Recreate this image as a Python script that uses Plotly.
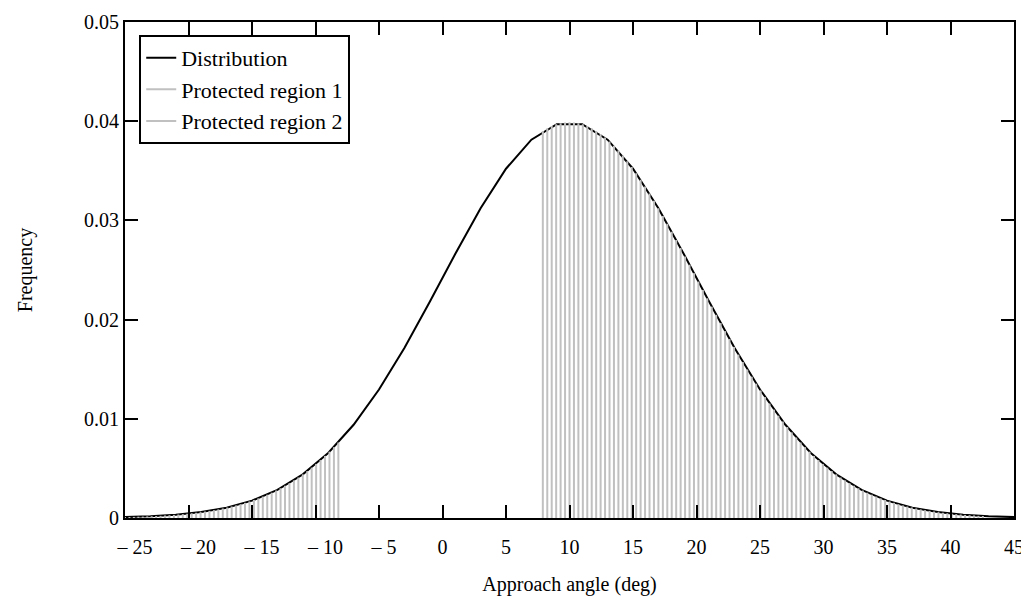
import numpy as np
import plotly.graph_objects as go

# ---- data ----
# sample grid of approach angles (deg) used for the protected-region stems
grid_angle = np.round(np.linspace(-25, 45, 201), 2)
grid_freq = [
    0.00009, 0.00010, 0.00011, 0.00013, 0.00014, 0.00016, 0.00018, 0.00020, 0.00022, 0.00025,
    0.00028, 0.00031, 0.00035, 0.00039, 0.00043, 0.00048, 0.00053, 0.00059, 0.00065, 0.00072,
    0.00079, 0.00087, 0.00096, 0.00106, 0.00116, 0.00127, 0.00139, 0.00153, 0.00167, 0.00182,
    0.00198, 0.00216, 0.00235, 0.00255, 0.00277, 0.00300, 0.00325, 0.00351, 0.00379, 0.00408,
    0.00440, 0.00473, 0.00508, 0.00545, 0.00584, 0.00626, 0.00669, 0.00714, 0.00761, 0.00811,
    0.00863, 0.00917, 0.00973, 0.01031, 0.01092, 0.01154, 0.01219, 0.01286, 0.01354, 0.01425,
    0.01497, 0.01572, 0.01647, 0.01725, 0.01804, 0.01884, 0.01965, 0.02048, 0.02131, 0.02215,
    0.02299, 0.02383, 0.02468, 0.02553, 0.02637, 0.02721, 0.02803, 0.02885, 0.02966, 0.03045,
    0.03123, 0.03198, 0.03271, 0.03342, 0.03410, 0.03476, 0.03538, 0.03597, 0.03653, 0.03704,
    0.03752, 0.03796, 0.03836, 0.03871, 0.03902, 0.03929, 0.03951, 0.03968, 0.03980, 0.03987,
    0.03989,
    0.03987, 0.03980, 0.03968, 0.03951, 0.03929, 0.03902, 0.03871, 0.03836, 0.03796, 0.03752,
    0.03704, 0.03653, 0.03597, 0.03538, 0.03476, 0.03410, 0.03342, 0.03271, 0.03198, 0.03123,
    0.03045, 0.02966, 0.02885, 0.02803, 0.02721, 0.02637, 0.02553, 0.02468, 0.02383, 0.02299,
    0.02215, 0.02131, 0.02048, 0.01965, 0.01884, 0.01804, 0.01725, 0.01647, 0.01572, 0.01497,
    0.01425, 0.01354, 0.01286, 0.01219, 0.01154, 0.01092, 0.01031, 0.00973, 0.00917, 0.00863,
    0.00811, 0.00761, 0.00714, 0.00669, 0.00626, 0.00584, 0.00545, 0.00508, 0.00473, 0.00440,
    0.00408, 0.00379, 0.00351, 0.00325, 0.00300, 0.00277, 0.00255, 0.00235, 0.00216, 0.00198,
    0.00182, 0.00167, 0.00153, 0.00139, 0.00127, 0.00116, 0.00106, 0.00096, 0.00087, 0.00079,
    0.00072, 0.00065, 0.00059, 0.00053, 0.00048, 0.00043, 0.00039, 0.00035, 0.00031, 0.00028,
    0.00025, 0.00022, 0.00020, 0.00018, 0.00016, 0.00014, 0.00013, 0.00011, 0.00010, 0.00009,
]

# distribution curve (coarser polyline)
line_angle = list(range(-25, 46, 2))
line_freq = [
    0.00009, 0.00017, 0.00033, 0.00060, 0.00104, 0.00175, 0.00283, 0.00440, 0.00656,
    0.00940, 0.01295, 0.01714, 0.02179, 0.02661, 0.03123, 0.03521, 0.03814, 0.03970,
    0.03970, 0.03814, 0.03521, 0.03123, 0.02661, 0.02179, 0.01714, 0.01295, 0.00940,
    0.00656, 0.00440, 0.00283, 0.00175, 0.00104, 0.00060, 0.00033, 0.00017, 0.00009,
]

# protected regions as index ranges into the sample grid
region1_idx = (0, 48)
region2_idx = (94, 193)

FS = "\u2007"  # figure space, nudges negative labels right as in the original
x_tickvals = [-25, -20, -15, -10, -5, 0, 5, 10, 15, 20, 25, 30, 35, 40, 45]
x_ticktext = [FS * 2 + "\u2013 25", FS * 2 + "\u2013 20", FS * 2 + "\u2013 15",
              FS * 2 + "\u2013 10", FS + "\u2013 5", "0", "5", "10",
              "15", "20", "25", "30", "35", "40", "45"]
y_tickvals = [0, 0.01, 0.02, 0.03, 0.04, 0.05]
y_ticktext = ["0", "0.01", "0.02", "0.03", "0.04", "0.05"]


def stems(lo, hi):
    xs, ys = [], []
    for i in range(lo, hi + 1):
        xs += [grid_angle[i], grid_angle[i], None]
        ys += [0, grid_freq[i], None]
    return xs, ys


FONT = "Liberation Serif, Times New Roman, serif"
STEM = "#c0c0c0"

fig = go.Figure()
fig.add_trace(go.Scatter(x=line_angle, y=line_freq, mode="lines", name="Distribution",
                         line=dict(color="black", width=2)))
sx, sy = stems(*region1_idx)
fig.add_trace(go.Scatter(x=sx, y=sy, mode="lines", name="Protected region 1",
                         line=dict(color=STEM, width=2), connectgaps=False))
sx, sy = stems(*region2_idx)
fig.add_trace(go.Scatter(x=sx, y=sy, mode="lines", name="Protected region 2",
                         line=dict(color=STEM, width=2), connectgaps=False))

axis_common = dict(showline=True, linewidth=2, linecolor="black", mirror="ticks",
                   ticks="inside", ticklen=13, tickwidth=2, tickcolor="black",
                   showgrid=False, zeroline=False, automargin=False,
                   tickfont=dict(family=FONT, size=20, color="black"))

fig.update_xaxes(range=[-25, 45], tickmode="array", tickvals=x_tickvals, ticktext=x_ticktext,
                 ticklabelstandoff=10,
                 title=dict(text="Approach angle (deg)", font=dict(family=FONT, size=20), standoff=20),
                 **axis_common)
fig.update_yaxes(range=[0, 0.05], tickmode="array", tickvals=y_tickvals, ticktext=y_ticktext,
                 title=dict(text="Frequency", font=dict(family=FONT, size=20), standoff=46),
                 **axis_common)

fig.update_layout(
    width=1029, height=600,
    margin=dict(l=117, r=23, t=14, b=90),
    plot_bgcolor="white", paper_bgcolor="white",
    font=dict(family=FONT, size=20, color="black"),
    legend=dict(x=0.016, y=0.974, xanchor="left", yanchor="top",
                bordercolor="black", borderwidth=2, bgcolor="white",
                font=dict(family=FONT, size=22, color="black"),
                tracegroupgap=0),
)

fig.write_html("out.html")
